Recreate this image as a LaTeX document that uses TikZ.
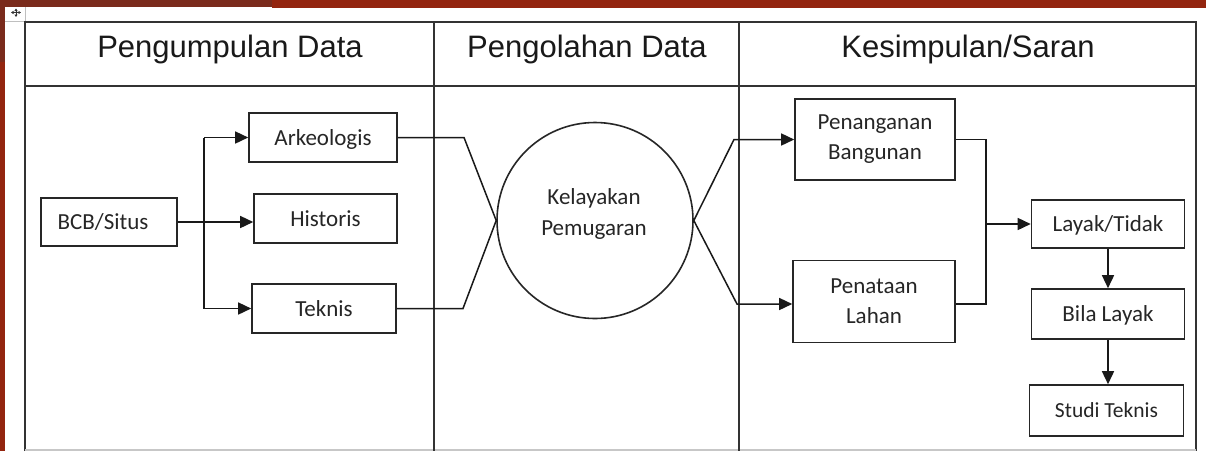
\documentclass[tikz,border=0pt]{standalone}
\usepackage{fontspec}
\setmainfont{Carlito}
\newfontfamily\hdrfont{Liberation Sans}
\usetikzlibrary{arrows.meta}
\definecolor{bgred}{HTML}{93250F}
\definecolor{bgbrown}{HTML}{7A2B1C}
\definecolor{tblline}{HTML}{333333}
\begin{document}
\begin{tikzpicture}[x=1pt,y=-1pt,
  box/.style={draw=black!85, line width=1.6pt, inner sep=0pt, align=center,
    font=\fontsize{23}{30}\selectfont, text=black!85},
  onebox/.style={box, text depth=0pt},
  conn/.style={line width=1.5pt, draw=black!90},
  arr/.style={conn, -{Triangle[length=13pt,width=12pt]}},
  hdr/.style={font=\hdrfont\fontsize{31}{36}\selectfont, anchor=base, text=black!90},
  tbl/.style={line width=2pt, draw=tblline}
]
\useasboundingbox (0,0) rectangle (1206,451);
% background
\fill[bgred] (0,0) rectangle (1206,451);
\fill[bgbrown] (0,0) rectangle (272,7);
\fill[bgbrown] (0,7) rectangle (5,62);
\fill[white] (5,7) rectangle (272,451);
\fill[white] (272,8) rectangle (1206,451);
% move handle
\draw[black!25, line width=0.8pt] (25,7) -- (25,21) -- (5,21);
\draw[black!80, line width=0.8pt, -{Triangle[length=2.5pt,width=3pt]}] (16,12.5) -- (16,8.5);
\draw[black!80, line width=0.8pt, -{Triangle[length=2.5pt,width=3pt]}] (16,12.5) -- (16,17);
\draw[black!80, line width=0.8pt, -{Triangle[length=2.5pt,width=3pt]}] (16,12.5) -- (11,12.5);
\draw[black!80, line width=0.8pt, -{Triangle[length=2.5pt,width=3pt]}] (16,12.5) -- (21,12.5);
% table
\draw[tbl] (25,451) -- (25,22) -- (1196,22) -- (1196,451);
\draw[draw=black!22, line width=1.5pt] (25,450) -- (1196,450);
\draw[tbl] (25,86) -- (1196,86);
\draw[tbl] (434,22) -- (434,451);
\draw[tbl] (739,22) -- (739,451);
\node[hdr] (h1) at (230,57) {Pengumpulan Data};
\node[hdr] (h2) at (587,57) {Pengolahan Data};
\node[hdr] (h3) at (968,57) {Kesimpulan/Saran};
% nodes
\node[onebox, minimum width=136pt, minimum height=48pt] (bcb) at (109,222) {BCB/Situs\hspace*{12pt}};
\node[onebox, minimum width=148pt, minimum height=49pt] (ark) at (323,137.5) {Arkeologis};
\node[onebox, minimum width=143pt, minimum height=49pt] (his) at (325.5,218.5) {Historis};
\node[onebox, minimum width=144pt, minimum height=49pt] (tek) at (324,308.5) {Teknis};
\node[draw=black!85, line width=1.6pt, circle, minimum size=196pt, inner sep=0pt] (c) at (595,220.5) {};
\node[align=center, font=\fontsize{23}{31}\selectfont, text=black!85] (ct) at (594,214) {Kelayakan\\Pemugaran};
\node[box, minimum width=160pt, minimum height=81pt] (pen) at (875,139.5) {Penanganan\\Bangunan};
\node[box, minimum width=162pt, minimum height=82pt] (pl) at (874,301.5) {Penataan\\Lahan};
\node[onebox, minimum width=153pt, minimum height=48pt] (lt) at (1108,224) {Layak/Tidak};
\node[onebox, minimum width=153pt, minimum height=50pt] (bl) at (1108,314) {Bila Layak};
\node[onebox, minimum width=154pt, minimum height=51pt, font=\fontsize{21.5}{24}\selectfont] (st) at (1106.5,410.5) {Studi Teknis};
% connectors
\coordinate (j1) at (204,222);
\coordinate (j1t) at (204,137.5);
\coordinate (j1b) at (204,308.5);
\draw[conn] (bcb.east) -- (j1);
\draw[conn] (j1t) -- (j1b);
\draw[arr] (j1t) -- (ark.west);
\draw[arr] (j1) -- (j1 -| his.west);
\draw[arr] (j1b) -- (tek.west);
\coordinate (a1) at (464,137.5);
\coordinate (a2) at (463,308.5);
\draw[conn] (ark.east) -- (a1) -- (c.west);
\draw[conn] (tek.east) -- (a2) -- (c.west);
\coordinate (k1) at (734,139.5);
\coordinate (k2) at (737,304);
\draw[arr] (c.east) -- (k1) -- (pen.west);
\draw[arr] (c.east) -- (k2) -- (k2 -| pl.west);
\coordinate (m1) at (986,139.5);
\coordinate (m2) at (986,304);
\coordinate (m3) at (986,224);
\draw[conn] (pen.east) -- (m1) -- (m2) -- (m2 -| pl.east);
\draw[arr] (m3) -- (lt.west);
\draw[arr] (lt.south) -- (bl.north);
\draw[arr] (bl.south) -- (bl.south |- st.north);
\end{tikzpicture}
\end{document}
